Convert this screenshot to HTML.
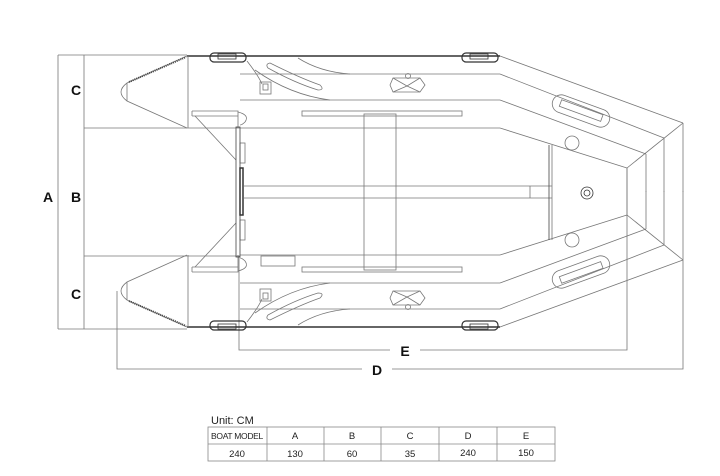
<!DOCTYPE html>
<html><head><meta charset="utf-8"><style>
html,body{margin:0;padding:0;background:#fff;width:720px;height:476px;overflow:hidden}
svg{display:block}
text{font-family:"Liberation Sans",sans-serif}
</style></head><body>
<svg width="720" height="476" viewBox="0 0 720 476" xmlns="http://www.w3.org/2000/svg">
<g fill="none" stroke="#777" stroke-width="0.8">
<!-- dimension lines -->
<line x1="58" y1="55" x2="58" y2="329"/>
<line x1="58" y1="55" x2="187" y2="55"/>
<line x1="58" y1="329" x2="187" y2="329"/>
<line x1="84" y1="55" x2="84" y2="329"/>
<line x1="84" y1="128" x2="240" y2="128"/>
<line x1="84" y1="256" x2="240" y2="256"/>
<polyline points="239,256 239,350 390,350"/>
<polyline points="420,350 627,350 627,168"/>
<polyline points="117,291 117,369 362,369"/>
<polyline points="392,369 683,369 683,260"/>
<!-- symmetric halves -->
<g id="half">
<line x1="187" y1="56" x2="500" y2="56" stroke="#333" stroke-width="1.5"/>
<path d="M187,56 L127,83 Q115,92 127,101 L187,128"/>
<line x1="127" y1="83" x2="127" y2="101"/>
<line x1="129" y1="82" x2="186" y2="57" stroke="#444" stroke-width="2" stroke-dasharray="1 1"/>
<line x1="188" y1="56" x2="188" y2="128"/>
<line x1="240" y1="74" x2="500" y2="74"/>
<line x1="240" y1="100" x2="500" y2="100"/>
<line x1="240" y1="128" x2="500" y2="128"/>
<!-- handles -->
<rect x="210" y="53" width="36" height="9" rx="4" stroke="#333" stroke-width="1.2"/>
<rect x="218" y="54" width="18" height="5" stroke="#333"/>
<rect x="462" y="53" width="36" height="9" rx="4" stroke="#333" stroke-width="1.2"/>
<rect x="470" y="54" width="18" height="5" stroke="#333"/>
<path d="M247,61 Q258,75 262,84"/>
<rect x="260" y="82" width="11" height="12"/>
<rect x="263" y="84" width="5" height="6"/>
<path d="M270,63 Q300,78 320,85 Q325,90 318,90 Q295,83 268,68 Q265,64 270,63Z"/>
<path d="M298,58 Q320,72 350,74"/>
<path d="M255,70 Q290,95 330,100"/>
<!-- oar lock -->
<path d="M393,78 L420,78 L425,85 L420,92 L393,92 L390,85Z"/>
<line x1="393" y1="78" x2="407" y2="86"/><line x1="420" y1="78" x2="407" y2="86"/>
<line x1="393" y1="92" x2="407" y2="86"/><line x1="420" y1="92" x2="407" y2="86"/>
<circle cx="408" cy="76" r="2.5"/>
<!-- seat line rail -->
<rect x="302" y="111" width="160" height="5"/>
<!-- transom -->
<path d="M192,111 L238,111 L238,128"/>
<line x1="192" y1="116" x2="238" y2="116"/>
<line x1="192" y1="111" x2="192" y2="116"/>
<line x1="195" y1="116" x2="236" y2="160"/>
<path d="M238,112 Q250,115 245,122 Q242,125 240,125"/>
<rect x="240" y="143" width="5" height="20"/>
<!-- bow -->
<line x1="500" y1="56" x2="683" y2="123"/>
<line x1="500" y1="74" x2="664" y2="138"/>
<line x1="500" y1="100" x2="646" y2="154"/>
<line x1="500" y1="128" x2="627" y2="168"/>
<line x1="627" y1="168" x2="683" y2="123"/>
<line x1="683" y1="123" x2="683" y2="192"/>
<line x1="664" y1="138" x2="664" y2="192"/>
<line x1="646" y1="154" x2="646" y2="192"/>
<rect x="551" y="102" width="60" height="18" rx="9" transform="rotate(20 581 111)"/>
<rect x="559" y="107" width="44" height="7" transform="rotate(20 581 111)"/>
<circle cx="572" cy="143" r="7"/>
</g>
<use href="#half" transform="translate(0,383) scale(1,-1)"/>
<!-- transom plate -->
<rect x="236" y="127" width="4" height="130" stroke="#444"/>
<rect x="240" y="168" width="3" height="47" stroke="#333" stroke-width="1.5"/>
<rect x="261" y="256" width="34" height="10"/>
<!-- keel -->
<line x1="244" y1="186" x2="552" y2="186"/>
<line x1="244" y1="198" x2="552" y2="198"/>
<line x1="530" y1="186" x2="530" y2="198"/>
<!-- seat -->
<rect x="364" y="114" width="32" height="156"/>
<!-- floor end -->
<line x1="549" y1="145" x2="549" y2="240" stroke="#444"/>
<line x1="552" y1="145" x2="552" y2="240"/>
<line x1="627" y1="168" x2="627" y2="216"/>
<circle cx="587" cy="193" r="6" stroke="#333"/>
<circle cx="587" cy="193" r="3" stroke="#333"/>
<!-- table -->
<g stroke="#888">
<rect x="208" y="427" width="347" height="34"/>
<line x1="208" y1="444" x2="555" y2="444"/>
<line x1="267" y1="427" x2="267" y2="461"/>
<line x1="324" y1="427" x2="324" y2="461"/>
<line x1="381" y1="427" x2="381" y2="461"/>
<line x1="439" y1="427" x2="439" y2="461"/>
<line x1="497" y1="427" x2="497" y2="461"/>
</g>
</g>
<g font-weight="bold" font-size="14" fill="#111" text-anchor="middle">
<text x="76" y="95">C</text>
<text x="76" y="202">B</text>
<text x="48" y="202">A</text>
<text x="76" y="299">C</text>
<text x="405" y="356">E</text>
<text x="377" y="375">D</text>
</g>
<text x="211" y="424" font-size="11" fill="#222">Unit:  CM</text>
<g font-size="9.5" fill="#222" text-anchor="middle">
<text x="237" y="439" font-size="8.5" letter-spacing="-0.3">BOAT MODEL</text>
<text x="295" y="439">A</text><text x="352" y="439">B</text><text x="410" y="439">C</text>
<text x="468" y="439">D</text><text x="526" y="439">E</text>
<text x="237" y="457">240</text><text x="295" y="457">130</text><text x="352" y="457">60</text>
<text x="410" y="457">35</text><text x="468" y="456">240</text><text x="526" y="456">150</text>
</g>
</svg>
</body></html>
